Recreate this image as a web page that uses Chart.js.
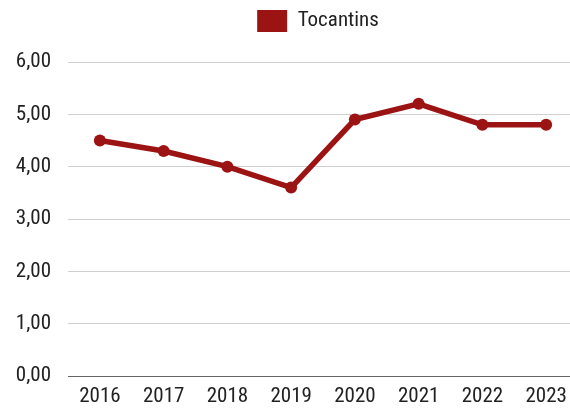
<!DOCTYPE html>
<html>
<head>
<meta charset="utf-8">
<script src="https://cdn.jsdelivr.net/npm/chart.js@4.4.1/dist/chart.umd.min.js"></script>
<style>
  html, body { margin: 0; padding: 0; background: #fff; overflow: hidden; }
  #wrap { width: 570px; height: 414px; overflow: hidden; }
</style>
</head>
<body>
<div id="wrap"><canvas id="chart" width="636" height="414"></canvas></div>
<script>
// dados
const years = ['2016', '2017', '2018', '2019', '2020', '2021', '2022', '2023'];
const tocantins = [4.5, 4.3, 4.0, 3.6, 4.9, 5.2, 4.8, 4.8];
const yTicks = [0, 1, 2, 3, 4, 5, 6];

const red = '#9c1313';
const fontFamily = "'Roboto Condensed', 'Liberation Sans Narrow', 'DejaVu Sans Condensed', 'Roboto', sans-serif";

Chart.defaults.font.family = fontFamily;
Chart.defaults.color = '#222';

const ctx = document.getElementById('chart').getContext('2d');
const chart = new Chart(ctx, {
    type: 'line',
    data: {
        labels: years,
        datasets: [{
            label: 'Tocantins',
            data: tocantins,
            borderColor: red,
            backgroundColor: red,
            borderWidth: 5.5,
            pointRadius: 6,
            pointBorderWidth: 0,
            pointBackgroundColor: red,
            tension: 0
        }]
    },
    options: {
        responsive: false,
        animation: false,
        layout: { padding: 0 },
        plugins: {
            legend: {
                position: 'top',
                labels: {
                    boxWidth: 30,
                    boxHeight: 22,
                    padding: 10,
                    font: { size: 21 },
                    color: '#222',
                    generateLabels: (c) => Chart.defaults.plugins.legend.labels.generateLabels(c)
                        .map(item => Object.assign(item, { lineWidth: 0 }))
                }
            },
            // espaço entre a legenda e o gráfico
            title: {
                display: true,
                text: '',
                weight: 500,
                padding: 0,
                font: { size: 10, lineHeight: 2 }
            },
            tooltip: { enabled: false }
        },
        scales: {
            x: {
                offset: true,
                grid: { display: false, drawTicks: false },
                border: { display: true, color: '#666', width: 1 },
                ticks: { font: { size: 21 }, padding: 8, color: '#222' },
                afterFit: (scale) => { scale.height = 38; }
            },
            y: {
                min: 0,
                max: 6,
                afterBuildTicks: (scale) => { scale.ticks = yTicks.map(v => ({ value: v })); },
                afterFit: (scale) => { scale.width = 68; },
                grid: {
                    drawTicks: false,
                    color: (c) => c.tick && c.tick.value === 0 ? '#666' : '#d0d0d0',
                    lineWidth: 1
                },
                border: { display: false },
                ticks: {
                    font: { size: 21 },
                    padding: 17,
                    color: '#222',
                    callback: (v) => v.toFixed(2).replace('.', ',')
                }
            },
            // eixo vazio à direita para reservar espaço
            yRight: {
                position: 'right',
                display: true,
                grid: { display: false, drawTicks: false },
                border: { display: false },
                ticks: { display: false },
                afterFit: (scale) => { scale.width = 58; }
            }
        }
    }
});
</script>
</body>
</html>
